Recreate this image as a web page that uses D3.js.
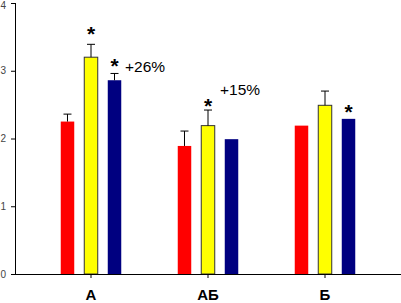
<!DOCTYPE html>
<html>
<head>
<meta charset="utf-8">
<script src="https://cdn.jsdelivr.net/npm/d3@7"></script>
<style>
  body { margin: 0; background: #fff; }
  svg { display: block; }
</style>
</head>
<body>
<div id="chart"></div>
<script>
// data
const categories = ["А", "АБ", "Б"];
const series = ["red", "yellow", "blue"];
const redValues = [2.25, 1.89, 2.19];
const redErrors = [0.11, 0.22, 0];
const yellowValues = [3.20, 2.19, 2.49];
const yellowErrors = [0.19, 0.23, 0.21];
const blueValues = [2.86, 1.99, 2.29];
const blueErrors = [0.10, 0, 0];
const yTicks = [0, 1, 2, 3, 4];
// stars: [category, series, height in axis units]
const stars = [["А", "yellow", 3.62], ["А", "blue", 3.14], ["АБ", "yellow", 2.55], ["Б", "blue", 2.46]];
// notes: [category, text, height in axis units]
const notes = [["А", "+26%", 3.06], ["АБ", "+15%", 2.72]];

const width = 401, height = 303;

// =========================
// SETUP
// =========================
const svg = d3.select("#chart").append("svg")
    .attr("width", width)
    .attr("height", height);

const colors = { red: "#ff0000", yellow: "#ffff00", blue: "#000080" };
const font = "Liberation Sans, Arial, sans-serif";

const rows = [];
categories.forEach((c, i) => {
    rows.push({ cat: c, s: "red", v: redValues[i], e: redErrors[i] });
    rows.push({ cat: c, s: "yellow", v: yellowValues[i], e: yellowErrors[i] });
    rows.push({ cat: c, s: "blue", v: blueValues[i], e: blueErrors[i] });
});

// =========================
// SCALES
// =========================
const x = d3.scalePoint().domain(categories).range([91, 325]);
const xInner = d3.scaleBand().domain(series).range([-30.25, 30.25])
    .paddingInner(0.426).paddingOuter(0);
const y = d3.scaleLinear().domain([0, 4]).range([274, 3]);

const cx = d => x(d.cat) + xInner(d.s) + xInner.bandwidth() / 2;

// =========================
// BARS
// =========================
svg.selectAll("rect.bar")
    .data(rows)
    .enter()
    .append("rect")
    .attr("class", "bar")
    .attr("x", d => x(d.cat) + xInner(d.s))
    .attr("y", d => y(d.v))
    .attr("width", xInner.bandwidth())
    .attr("height", d => y(0) - y(d.v))
    .attr("fill", d => colors[d.s])
    .attr("stroke", d => d.s === "yellow" ? "#333" : "none")
    .attr("stroke-width", 1);

// error bars
const errRows = rows.filter(d => d.e > 0);

svg.selectAll("line.err")
    .data(errRows)
    .enter()
    .append("line")
    .attr("x1", cx).attr("x2", cx)
    .attr("y1", d => y(d.v)).attr("y2", d => y(d.v + d.e))
    .attr("stroke", "#000");

svg.selectAll("line.cap")
    .data(errRows)
    .enter()
    .append("line")
    .attr("x1", d => cx(d) - 4).attr("x2", d => cx(d) + 4)
    .attr("y1", d => y(d.v + d.e)).attr("y2", d => y(d.v + d.e))
    .attr("stroke", "#000");

// =========================
// AXES
// =========================
svg.append("line")
    .attr("x1", 15.5).attr("x2", 15.5)
    .attr("y1", y(4)).attr("y2", y(0))
    .attr("stroke", "#000");

svg.append("line")
    .attr("x1", 15).attr("x2", width)
    .attr("y1", y(0) + 0.5).attr("y2", y(0) + 0.5)
    .attr("stroke", "#000");

svg.selectAll("line.ytick")
    .data(yTicks)
    .enter()
    .append("line")
    .attr("x1", 11).attr("x2", 15)
    .attr("y1", d => y(d) + 0.5).attr("y2", d => y(d) + 0.5)
    .attr("stroke", "#000");

svg.selectAll("text.ytick")
    .data(yTicks)
    .enter()
    .append("text")
    .attr("x", 6)
    .attr("y", d => d === 4 ? y(d) + 6 : y(d) + 3.5)
    .attr("text-anchor", "end")
    .style("font-family", font)
    .style("font-size", "10px")
    .style("fill", "#444")
    .text(d => d);

svg.selectAll("line.xtick")
    .data(categories)
    .enter()
    .append("line")
    .attr("x1", d => x(d)).attr("x2", d => x(d))
    .attr("y1", y(0)).attr("y2", y(0) + 4)
    .attr("stroke", "#000");

svg.selectAll("text.xlabel")
    .data(categories)
    .enter()
    .append("text")
    .attr("x", d => x(d))
    .attr("y", 300)
    .attr("text-anchor", "middle")
    .style("font-family", font)
    .style("font-size", "15px")
    .style("font-weight", "bold")
    .text(d => d);

// =========================
// ANNOTATIONS
// =========================
svg.selectAll("text.star")
    .data(stars)
    .enter()
    .append("text")
    .attr("x", d => x(d[0]) + xInner(d[1]) + xInner.bandwidth() / 2)
    .attr("y", d => y(d[2]) + 12)
    .attr("text-anchor", "middle")
    .style("font-family", font)
    .style("font-size", "21px")
    .style("font-weight", "bold")
    .text("*");

svg.selectAll("text.note")
    .data(notes)
    .enter()
    .append("text")
    .attr("x", d => d[0] === "А" ? x(d[0]) + 34 : x(d[0]) + 12)
    .attr("y", d => y(d[2]) + 5.5)
    .style("font-family", font)
    .style("font-size", "15.5px")
    .text(d => d[1]);
</script>
</body>
</html>
